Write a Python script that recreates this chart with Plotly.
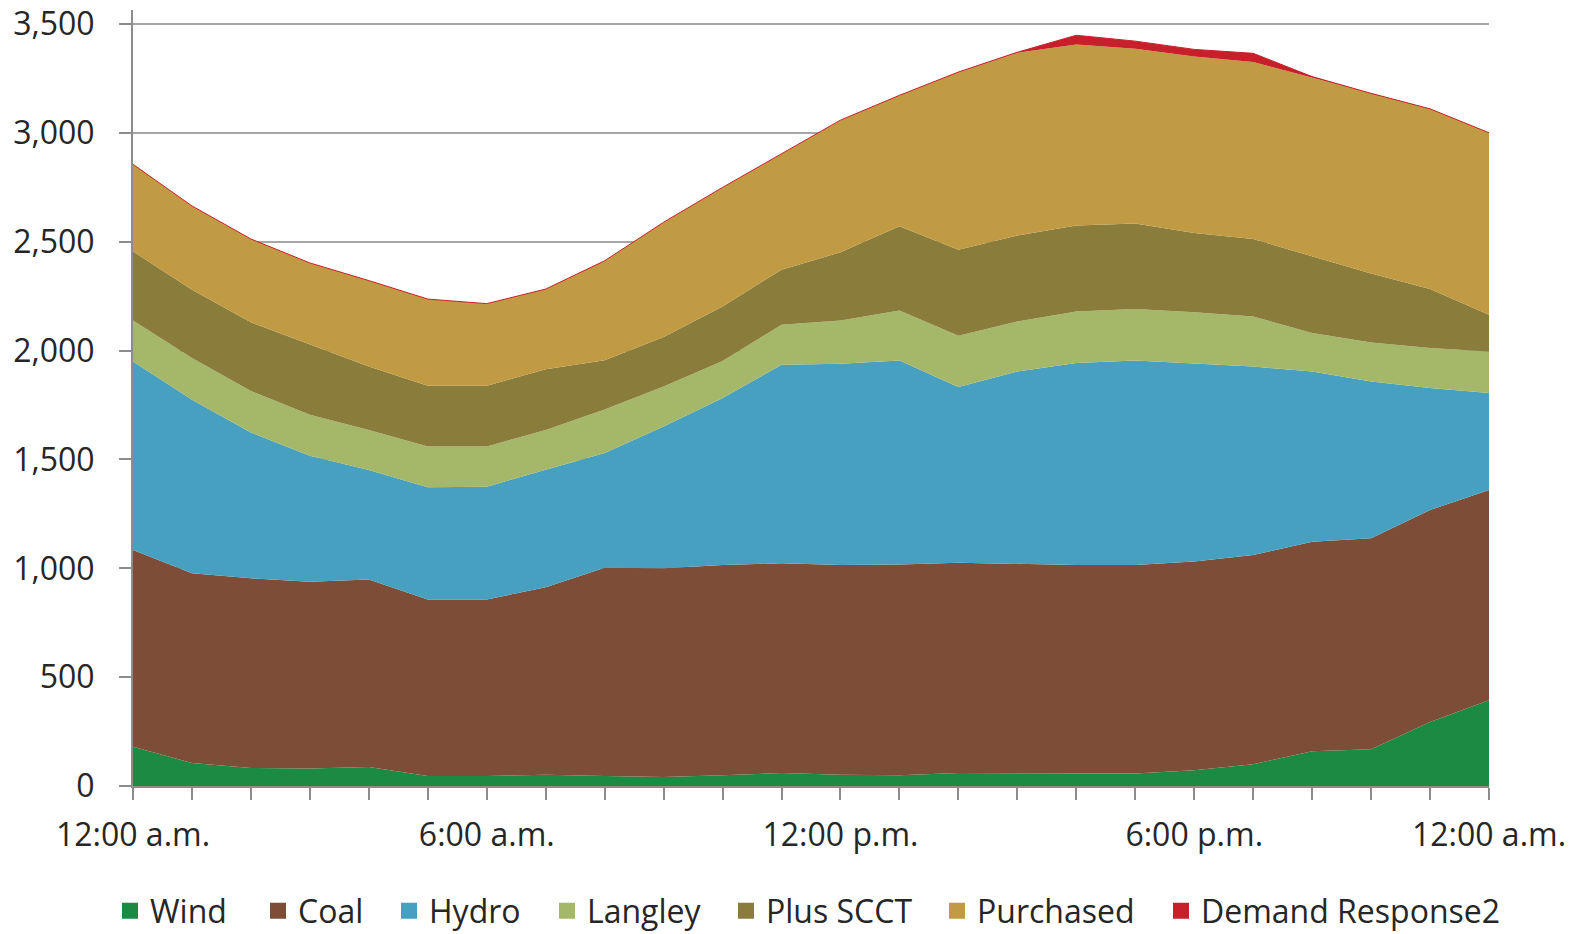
import plotly.graph_objects as go

hours = list(range(24))
tick_labels = ["12:00 a.m.", "", "", "", "", "", "6:00 a.m.", "", "", "", "", "",
               "12:00 p.m.", "", "", "", "", "", "6:00 p.m.", "", "", "", "", "12:00 a.m."]

wind = [180, 106, 83, 80, 87, 46, 46, 52, 46, 41, 49, 60, 52, 49, 60, 57, 57, 57, 72, 100, 160, 169, 294, 394]
coal = [904, 871, 871, 858, 862, 811, 811, 861, 957, 959, 966, 963, 963, 969, 966, 963, 958, 958, 959, 961, 962, 969, 974, 966]
hydro = [866, 797, 670, 579, 503, 516, 518, 539, 527, 651, 767, 912, 925, 937, 807, 884, 928, 940, 909, 866, 782, 720, 560, 445]
langley = [189, 192, 191, 189, 184, 187, 185, 184, 200, 184, 170, 184, 199, 230, 236, 230, 237, 236, 236, 230, 177, 180, 184, 191]
plus_scct = [317, 314, 315, 321, 291, 279, 279, 279, 226, 228, 251, 253, 313, 386, 395, 395, 395, 393, 365, 356, 352, 316, 271, 169]
purchased = [400, 385, 383, 376, 395, 398, 377, 368, 457, 527, 547, 534, 607, 602, 816, 840, 832, 803, 810, 813, 821, 828, 828, 836]
demand_response = [0, 0, 0, 0, 0, 0, 0, 0, 0, 0, 0, 0, 0, 0, 0, 2, 42, 35, 33, 40, 5, 0, 0, 0]

series = [
    ("Wind", wind, "#1b8a42"),
    ("Coal", coal, "#7d4d37"),
    ("Hydro", hydro, "#48a0c0"),
    ("Langley", langley, "#a5b769"),
    ("Plus SCCT", plus_scct, "#8a7d3b"),
    ("Purchased", purchased, "#c19b43"),
    ("Demand Response2", demand_response, "#c8202a"),
]

# legend entry left positions (page pixels) and legend row centre
legend_px = [110, 258, 389, 547, 726, 937, 1161]
legend_row_y = 911

FONT = "Open Sans, DejaVu Sans, sans-serif"
W, H = 1581, 934
plot_left, plot_right, plot_top, plot_bottom = 133, 1489, 10, 786
L, T = plot_left, plot_top
R, B = W - plot_right, H - plot_bottom
pw, ph = plot_right - plot_left, plot_bottom - plot_top

fig = go.Figure()
for name, vals, color in series:
    is_dr = name == "Demand Response2"
    fig.add_trace(go.Scatter(
        x=hours, y=vals, name=name, mode="lines", stackgroup="one",
        fillcolor=color,
        line=dict(color=color if is_dr else "rgba(0,0,0,0)", width=1 if is_dr else 0),
        showlegend=False, hoverinfo="x+y+name",
    ))

legend_layouts = {}
for i, (name, vals, color) in enumerate(series):
    key = "legend" if i == 0 else f"legend{i+1}"
    fig.add_trace(go.Scatter(
        x=[None], y=[None], name=name, mode="markers",
        marker=dict(symbol="square", size=22, color=color),
        showlegend=True, legend=key,
    ))
    legend_layouts[key] = dict(
        orientation="h", x=(legend_px[i] - plot_left) / pw, xanchor="left",
        y=(plot_bottom - legend_row_y) / ph, yanchor="middle",
        font=dict(size=32, family=FONT, color="#262626"),
        bgcolor="rgba(0,0,0,0)", borderwidth=0,
    )

fig.update_layout(
    width=W, height=H,
    margin=dict(l=L, r=R, t=T, b=B, autoexpand=False),
    paper_bgcolor="white", plot_bgcolor="white",
    font=dict(family=FONT, size=32, color="#262626"),
    showlegend=True,
    xaxis=dict(range=[0, 23], tickmode="array", tickvals=hours, ticktext=tick_labels,
               ticks="outside", ticklen=12, tickcolor="#8c8c8c", tickwidth=2,
               showline=True, linecolor="#8c8c8c", linewidth=2, automargin=False,
               showgrid=False, zeroline=False, tickfont=dict(size=32, family=FONT),
               ticklabelstandoff=8, ticklabeloverflow="allow"),
    yaxis=dict(range=[0, 3565], tickmode="array", tickvals=[0, 500, 1000, 1500, 2000, 2500, 3000, 3500],
               ticktext=["0", "500", "1,000", "1,500", "2,000", "2,500", "3,000", "3,500"],
               ticks="outside", ticklen=12, tickcolor="#8c8c8c", tickwidth=2,
               showline=True, linecolor="#8c8c8c", linewidth=2, automargin=False,
               showgrid=True, gridcolor="#a6a6a6", gridwidth=2, zeroline=False,
               tickfont=dict(size=32, family=FONT), ticklabelstandoff=18,
               ticklabeloverflow="allow"),
    **legend_layouts,
)

fig.write_html("out.html", config={"displayModeBar": False},
               post_script="document.body.style.margin='0px';document.body.style.overflow='hidden';")
